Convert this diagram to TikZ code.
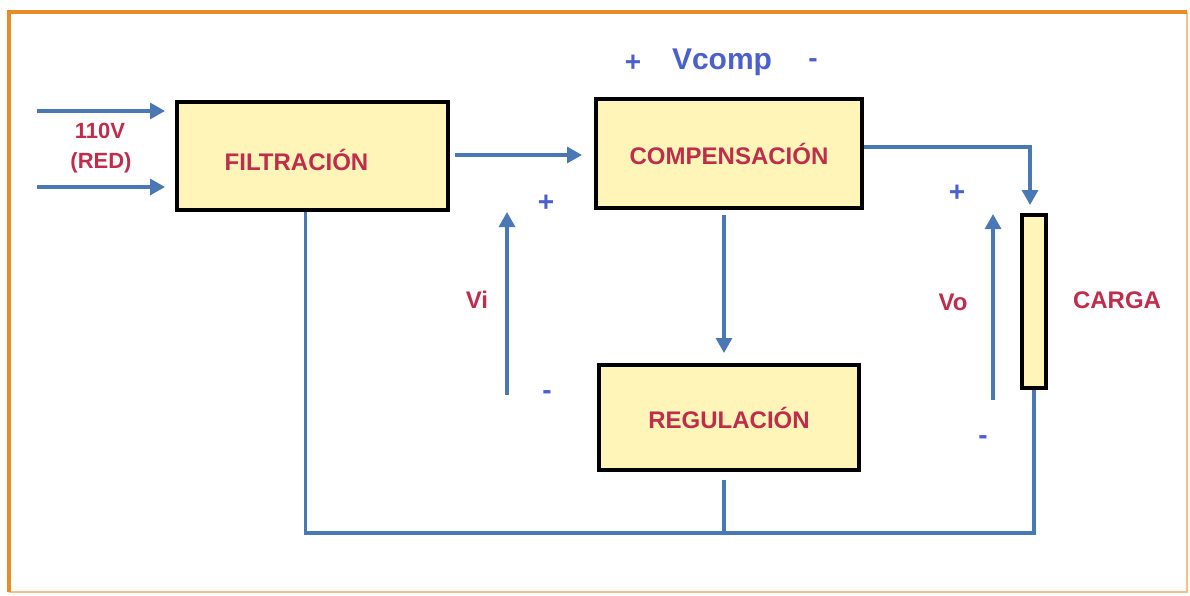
\documentclass[tikz,border=0pt]{standalone}
\usepackage{fontspec}
\setmainfont{Liberation Sans}
\usepackage{tikz}
\usetikzlibrary{arrows.meta}

\definecolor{linea}{RGB}{74,120,180}
\definecolor{rojo}{RGB}{190,45,75}
\definecolor{azul}{RGB}{75,95,205}
\definecolor{relleno}{RGB}{255,245,185}
\definecolor{marco}{RGB}{232,140,40}

\begin{document}
\begin{tikzpicture}[x=1pt, y=-1pt,
        bloque/.style={draw=black, line width=4pt, fill=relleno, inner sep=0pt, text=rojo,
            font=\bfseries\fontsize{24}{28}\selectfont},
        texto/.style={text=rojo, font=\bfseries\fontsize{24}{28}\selectfont},
        signo/.style={text=azul, font=\bfseries\fontsize{28}{32}\selectfont},
        cable/.style={draw=linea, line width=3.2pt},
        flecha/.style={cable, -{Triangle[length=15pt,width=16pt]}}]

        \useasboundingbox (0,0) rectangle (1190,595);
        % marco naranja
        \draw[marco!55, line width=2pt] (1187,12) -- (1187,592) -- (9,592);
        \draw[marco, line width=3.5pt] (9,592) -- (9,12) -- (1187,12);

        % bloques
        \node[bloque, minimum width=271pt, minimum height=108pt,
            label={[texto, xshift=-16pt, yshift=-4pt]center:FILTRACIÓN}] (filtro) at (312.5,156) {};
        \node[bloque, minimum width=266pt, minimum height=109pt] (comp) at (729,153.5) {COMPENSACIÓN};
        \node[bloque, minimum width=260pt, minimum height=105pt] (reg) at (729,417.5) {REGULACIÓN};
        \node[bloque, minimum width=24pt, minimum height=173pt] (carga) at (1034,301.5) {};
        \node[texto] (txtcarga) at (1117,300) {CARGA};

        % entrada de red
        \coordinate (red1) at (37,111);
        \coordinate (red2) at (37,187);
        \draw[flecha, shorten >=10pt] (red1) -- (red1 -| filtro.west);
        \draw[flecha, shorten >=10pt] (red2) -- (red2 -| filtro.west);
        \node[texto, font=\bfseries\fontsize{22}{26}\selectfont] (tension) at (100,131) {110V};
        \node[texto, font=\bfseries\fontsize{22}{26}\selectfont] (red) at (101,163) {(RED)};

        % conexiones entre bloques
        \draw[flecha, shorten <=5pt, shorten >=12pt] (filtro.east |- 0,155) -- (comp.west |- 0,155);
        \draw[flecha, shorten >=8pt] (comp.east |- 0,147) -| ([xshift=-4pt]carga.north);
        \draw[flecha, shorten <=5pt, shorten >=10pt] ([xshift=-5pt]comp.south) -- ([xshift=-5pt]reg.north);

        % retorno comun
        \coordinate (masa) at (724,533);
        \draw[cable] ([xshift=-7pt]filtro.south) |- (masa) -| (carga.south);
        \draw[cable, shorten <=8pt] (reg.south -| masa) -- (masa);

        % tension de entrada
        \coordinate (vi-abajo) at (507,395);
        \coordinate (vi-arriba) at (507,212);
        \draw[flecha] (vi-abajo) -- (vi-arriba);
        \node[signo] (vi-mas) at (546,203) {+};
        \node[texto] (vi-txt) at (477,300) {Vi};
        \node[signo] (vi-menos) at (547,395) {-};

        % tension de salida
        \coordinate (vo-abajo) at (993,400);
        \coordinate (vo-arriba) at (993,214);
        \draw[flecha] (vo-abajo) -- (vo-arriba);
        \node[signo] (vo-mas) at (957,193) {+};
        \node[texto] (vo-txt) at (953,302) {Vo};
        \node[signo] (vo-menos) at (983,440) {-};

        % tension de compensacion
        \node[signo] (vc-mas) at (633,63) {+};
        \node[signo, font=\bfseries\fontsize{30}{34}\selectfont] (vc-txt) at (722,62) {Vcomp};
        \node[signo] (vc-menos) at (813,63) {-};
    \end{tikzpicture}
\end{document}
